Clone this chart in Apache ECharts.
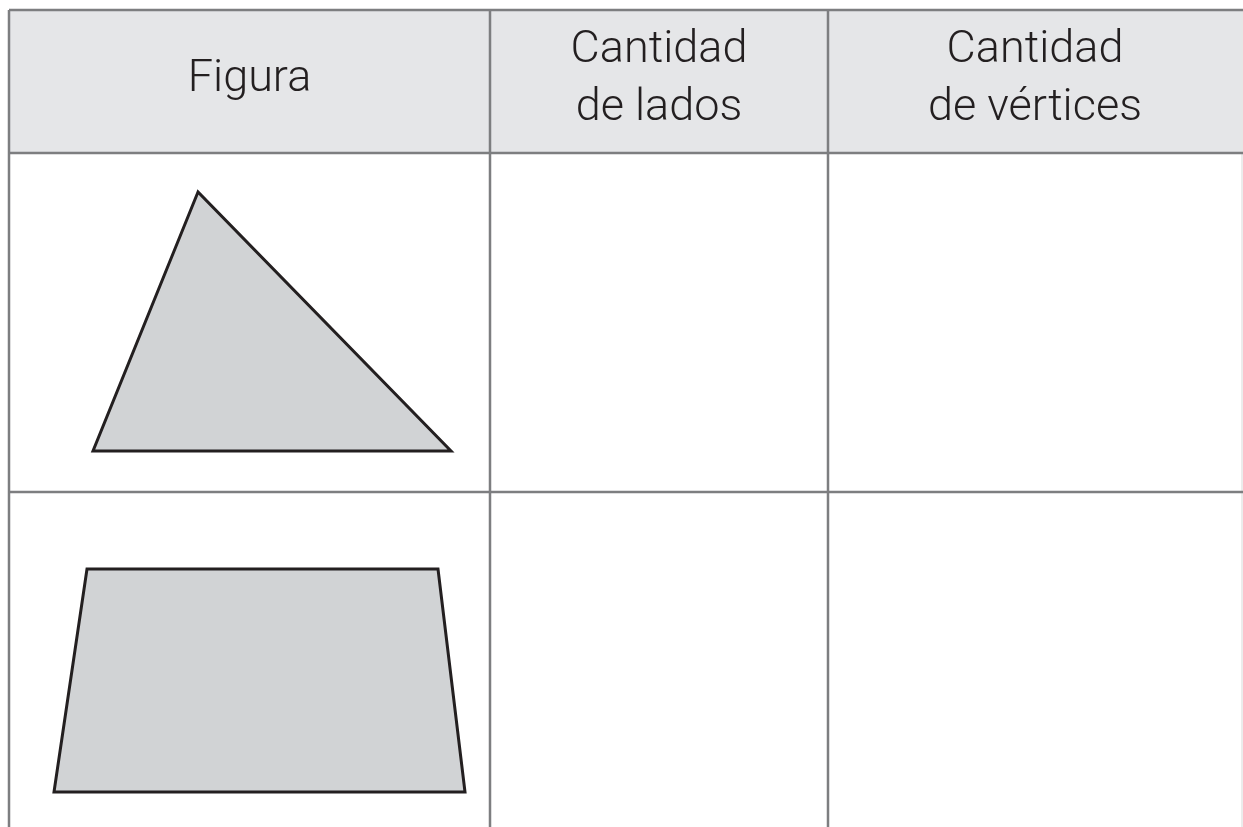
<!DOCTYPE html>
<html>
<head>
<meta charset="utf-8">
<script src="https://cdn.jsdelivr.net/npm/echarts@6/dist/echarts.min.js"></script>
<style>html,body{margin:0;padding:0;background:#fff}#c{width:1243px;height:827px}</style>
</head>
<body>
<div id="c"></div>
<script>
const headers = ['Figura', 'Cantidad\nde lados', 'Cantidad\nde vértices'];
const colEdges = [9, 490, 828, 1242];
const rowEdges = [10, 153, 492, 827];
const triangle = [[198, 192], [93, 451], [451, 451]];
const trapezoid = [[87, 569], [438, 569], [465, 792], [54, 792]];
const shapes = [triangle, trapezoid];

const chart = echarts.init(document.getElementById('c'));
const lineColor = '#7d7e80';

const hLines = rowEdges.slice(0, 3).map(y => [colEdges[0], y, 1243, y]);
const vLines = colEdges.slice(0, 3).map(x => [x, rowEdges[0], x, rowEdges[3]]);

chart.setOption({
  animation: false,
  grid: {left: 0, right: 0, top: 0, bottom: 0},
  xAxis: {type: 'value', min: 0, max: 1243, show: false},
  yAxis: {type: 'value', min: 0, max: 827, inverse: true, show: false},
  series: [
    {
      type: 'custom', z: 1, data: [[colEdges[0], rowEdges[0], 1243, rowEdges[1]]],
      renderItem: (p, api) => {
        const a = api.coord([api.value(0), api.value(1)]);
        const b = api.coord([api.value(2), api.value(3)]);
        return {type: 'rect', shape: {x: a[0], y: a[1], width: b[0] - a[0], height: b[1] - a[1]}, style: {fill: '#e5e6e8'}};
      }
    },
    {
      type: 'custom', z: 3, data: shapes.map((s, i) => [i]),
      renderItem: (p, api) => {
        const pts = shapes[api.value(0)].map(v => api.coord(v));
        return {type: 'polygon', shape: {points: pts}, style: {fill: '#d1d3d5', stroke: '#231f20', lineWidth: 3, lineJoin: 'miter'}};
      }
    },
    {
      type: 'custom', z: 4, data: hLines.concat(vLines),
      renderItem: (p, api) => {
        const a = api.coord([api.value(0), api.value(1)]);
        const b = api.coord([api.value(2), api.value(3)]);
        return {type: 'line', shape: {x1: a[0], y1: a[1], x2: b[0], y2: b[1]}, style: {stroke: lineColor, lineWidth: 2.5}};
      }
    },
    {
      type: 'custom', z: 2, data: [[colEdges[3], rowEdges[0], colEdges[3], rowEdges[3]]],
      renderItem: (p, api) => {
        const a = api.coord([api.value(0), api.value(1)]);
        const b = api.coord([api.value(2), api.value(3)]);
        return {type: 'line', shape: {x1: a[0], y1: a[1], x2: b[0], y2: b[1]}, style: {stroke: '#e6e6e6', lineWidth: 1.5}};
      }
    },
    {
      type: 'custom', z: 5, data: headers.map((h, i) => [(colEdges[i] + colEdges[i + 1]) / 2, (rowEdges[0] + rowEdges[1]) / 2, i]),
      renderItem: (p, api) => {
        const c = api.coord([api.value(0), api.value(1)]);
        return {type: 'text', x: c[0], y: c[1] - 2, style: {text: headers[api.value(2)], fill: '#231f20', font: '300 45px Roboto', align: 'center', verticalAlign: 'middle', lineHeight: 58}};
      }
    }
  ]
});
</script>
</body>
</html>
